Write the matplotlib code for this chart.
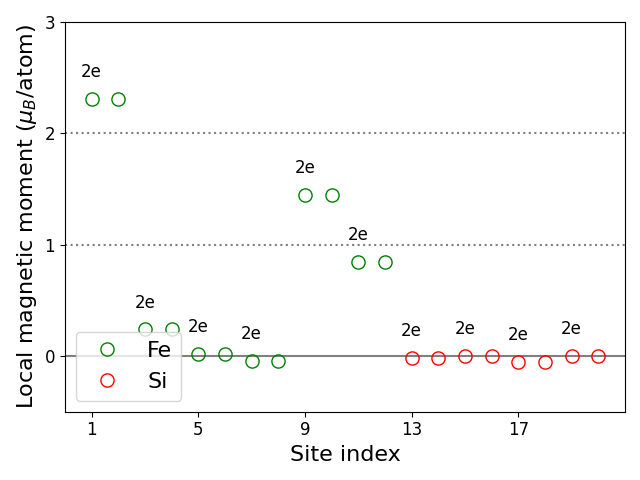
import matplotlib
matplotlib.use('Agg')
import matplotlib.pyplot as plt

fe_sites = [1, 2, 3, 4, 5, 6, 7, 8, 9, 10, 11, 12]
fe_moments = [2.31, 2.31, 0.24, 0.24, 0.02, 0.02, -0.045, -0.045, 1.45, 1.45, 0.845, 0.845]
si_sites = [13, 14, 15, 16, 17, 18, 19, 20]
si_moments = [-0.018, -0.018, 0.002, 0.002, -0.055, -0.055, 0.002, 0.002]
labels = ['2e'] * 10

fig, ax = plt.subplots(figsize=(6.4, 4.8))
ax.axhline(0, color='grey', lw=1.5)
ax.axhline(1, color='grey', ls=':', lw=1.5)
ax.axhline(2, color='grey', ls=':', lw=1.5)
ax.plot(fe_sites, fe_moments, 'o', mfc='none', mec='green', ms=9.5, label='Fe')
ax.plot(si_sites, si_moments, 'o', mfc='none', mec='red', ms=9.5, label='Si')

all_sites = fe_sites + si_sites
all_moments = fe_moments + si_moments
for k, lab in enumerate(labels):
    ax.text(all_sites[2 * k], all_moments[2 * k] + 0.24, lab, ha='center', va='center', fontsize=12)

ax.set_xlim(0, 21)
ax.set_ylim(-0.5, 3)
ax.set_xticks([1, 5, 9, 13, 17])
ax.set_yticks([0, 1, 2, 3])
ax.tick_params(labelsize=12)
ax.set_xlabel('Site index', fontsize=16)
ax.set_ylabel(r'Local magnetic moment ($\mu_B$/atom)', fontsize=16)
ax.legend(loc='lower left', fontsize=16)
fig.tight_layout()
fig.savefig('out.png', dpi=100)
